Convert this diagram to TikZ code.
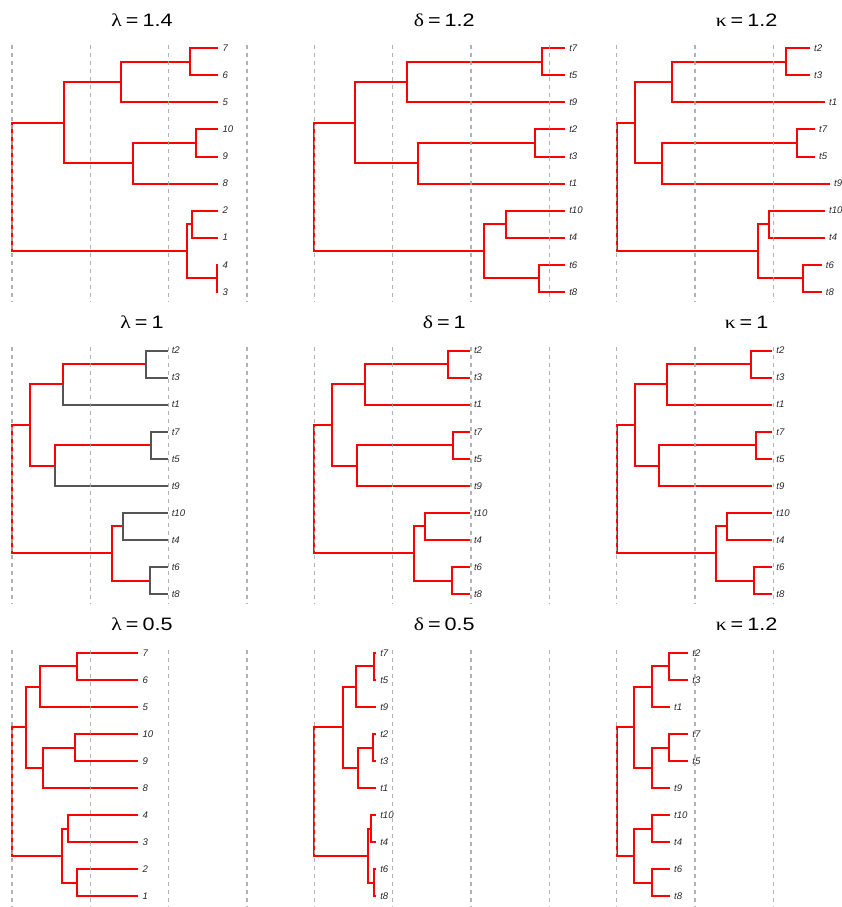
\documentclass[tikz,border=0pt]{standalone}
\usepackage{fontspec}
\setmainfont{Liberation Sans}
\newfontfamily\grk{Liberation Serif}
\definecolor{tipgray}{RGB}{85,85,85}
\definecolor{gridgray}{RGB}{165,165,165}
\definecolor{labcol}{RGB}{40,40,40}
\tikzset{
  branch/.style={draw=red, line width=1.5pt},
  vgrid/.style={draw=gridgray, line width=1pt, dash pattern=on 3pt off 3pt, opacity=0.85},
  tiplab/.style={anchor=west, inner sep=0pt, xshift=3pt, text=labcol, font=\fontsize{7.2}{8}\selectfont\itshape},
  ttl/.style={inner sep=0pt, text=black, font=\fontsize{13.5}{15}\selectfont}
}
\newcommand\nodesat[9]{%
  \coordinate (r) at (#1,186.93);
  \coordinate (n1) at (#2,122.69);
  \coordinate (n11) at (#3,82.11);
  \coordinate (n111) at (#4,61.825);
  \coordinate (n12) at (#5,163.26);
  \coordinate (n121) at (#6,142.975);
  \coordinate (n2) at (#7,251.175);
  \coordinate (n21) at (#8,224.125);
  \coordinate (n22) at (#9,278.225);}
\newcommand\tipsat[1]{\foreach \i/\x in {#1} {\coordinate (T\i) at (\x,{48.3+27.05*(\i-1)});}}
\newcommand\alltips[1]{\tipsat{1/#1,2/#1,3/#1,4/#1,5/#1,6/#1,7/#1,8/#1,9/#1,10/#1}}
\newcommand\drawtree[3]{%
  \draw[branch] (r) |- (n1) (r) |- (n2) (n1) |- (n11) (n1) |- (n12)
    (n11) |- (n111) (n12) |- (n121) (n2) |- (n21) (n2) |- (n22);
  \draw[branch, draw=#1] (n111) |- (T1) (n111) |- (T2) (n11) |- (T3)
    (n121) |- (T4) (n121) |- (T5) (n12) |- (T6)
    (n21) |- (T7) (n21) |- (T8) (n22) |- (T9) (n22) |- (T10);
  \foreach \l [count=\i] in {#2} {\node[tiplab] (lab#3-\i) at (T\i) {\l};}
}
\newcommand\vgrids{\foreach \gx in {12,90.33,168.67,247} {\draw[vgrid] (\gx,45) -- (\gx,302);}}
\newcommand\ptitle[3]{\node[ttl] (ttl#3) at (142,20) {\scalebox{1.2}[1]{{\grk #1}\hspace{2.5pt}=\hspace{2.5pt}#2}};}
\begin{document}
\begin{tikzpicture}[x=0.75pt,y=-0.75pt]
\path[use as bounding box] (0,0) rectangle (842,907);
\clip (0,0) rectangle (842,907);
% ---- row 1
\begin{scope}[shift={(0,0)}]
  \nodesat{12}{64.3}{120.7}{190}{133.3}{195.7}{186.7}{191.7}{216.7}
  \alltips{218.3}
  \drawtree{red}{7,6,5,10,9,8,2,1,4,3}{a}
  \vgrids
  \ptitle{λ}{1.4}{a}
\end{scope}
\begin{scope}[shift={(302.3,0)}]
  \nodesat{12}{52.7}{104.4}{239.4}{116}{232.7}{181.7}{203.7}{237}
  \alltips{262.7}
  \drawtree{red}{t7,t5,t9,t2,t3,t1,t10,t4,t6,t8}{b}
  \vgrids
  \ptitle{δ}{1.2}{b}
\end{scope}
\begin{scope}[shift={(604.6,0)}]
  \nodesat{12}{30.3}{67}{181.3}{57}{192.7}{153.7}{164.3}{198}
  \tipsat{1/205.3,2/205.3,3/220.3,4/210.3,5/210.3,6/225.3,7/220.3,8/220.3,9/217,10/217}
  \drawtree{red}{t2,t3,t1,t7,t5,t9,t10,t4,t6,t8}{c}
  \vgrids
  \ptitle{κ}{1.2}{c}
\end{scope}
% ---- row 2
\begin{scope}[shift={(0,302.3)}]
  \nodesat{12}{30}{62.5}{146}{54.5}{151}{111.5}{122.7}{149.5}
  \alltips{167.5}
  \drawtree{tipgray}{t2,t3,t1,t7,t5,t9,t10,t4,t6,t8}{d}
  \vgrids
  \ptitle{λ}{1}{d}
\end{scope}
\begin{scope}[shift={(302.3,302.3)}]
  \nodesat{12}{30}{62.5}{146}{54.5}{151}{111.5}{122.7}{149.5}
  \alltips{167.5}
  \drawtree{red}{t2,t3,t1,t7,t5,t9,t10,t4,t6,t8}{e}
  \vgrids
  \ptitle{δ}{1}{e}
\end{scope}
\begin{scope}[shift={(604.6,302.3)}]
  \nodesat{12}{30}{62.5}{146}{54.5}{151}{111.5}{122.7}{149.5}
  \alltips{167.5}
  \drawtree{red}{t2,t3,t1,t7,t5,t9,t10,t4,t6,t8}{f}
  \vgrids
  \ptitle{κ}{1}{f}
\end{scope}
% ---- row 3
\begin{scope}[shift={(0,604.6)}]
  \nodesat{12}{25.7}{40}{77.3}{43.3}{75}{62.3}{67.7}{77.3}
  \alltips{138.3}
  \drawtree{red}{7,6,5,10,9,8,4,3,2,1}{g}
  \vgrids
  \ptitle{λ}{0.5}{g}
\end{scope}
\begin{scope}[shift={(302.3,604.6)}]
  \nodesat{12}{40.4}{53.7}{71.7}{55.4}{71}{65.4}{68.7}{72}
  \alltips{73.7}
  \drawtree{red}{t7,t5,t9,t2,t3,t1,t10,t4,t6,t8}{h}
  \vgrids
  \ptitle{δ}{0.5}{h}
\end{scope}
\begin{scope}[shift={(604.6,604.6)}]
  \nodesat{12}{29.3}{47}{64.3}{47}{64.3}{29.3}{47}{47}
  \tipsat{1/83.6,2/83.6,3/65.3,4/83.6,5/83.6,6/65.3,7/65.3,8/65.3,9/65.3,10/65.3}
  \drawtree{red}{t2,t3,t1,t7,t5,t9,t10,t4,t6,t8}{i}
  \vgrids
  \ptitle{κ}{1.2}{i}
\end{scope}
\end{tikzpicture}
\end{document}
